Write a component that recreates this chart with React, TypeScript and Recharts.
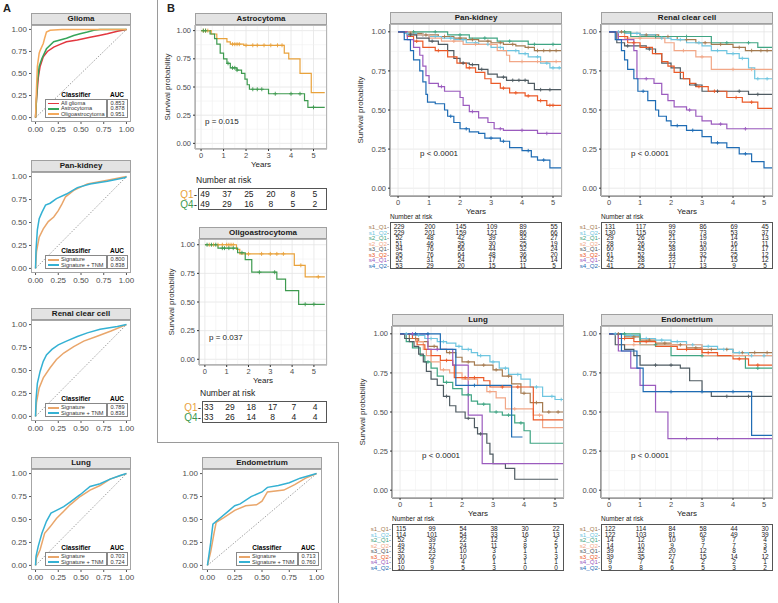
import React from "react";
import { ComposedChart, Line, XAxis, YAxis, CartesianGrid, ReferenceLine } from "recharts";

const FONT = '"Liberation Sans", Arial, Helvetica, sans-serif';

// ---------- ROC curves, [false positive rate, true positive rate] ----------
const gliomaAll = [[0,0],[0.01,0.2],[0.03,0.45],[0.05,0.58],[0.085,0.69],[0.13,0.75],[0.2,0.8],[0.27,0.83],[0.34,0.86],[0.46,0.88],[0.6,0.91],[0.7,0.93],[0.79,0.95],[0.9,0.98],[1,1]];
const gliomaAstro = [[0,0],[0.01,0.2],[0.02,0.4],[0.04,0.58],[0.07,0.67],[0.12,0.78],[0.2,0.86],[0.27,0.88],[0.34,0.9],[0.42,0.93],[0.49,0.95],[0.57,0.97],[0.64,0.99],[0.71,1],[1,1]];
const gliomaOligo = [[0,0],[0.01,0.32],[0.02,0.58],[0.04,0.73],[0.05,0.76],[0.085,0.84],[0.1,0.9],[0.12,0.97],[0.16,0.99],[0.29,1],[1,1]];
const pkSig = [[0,0],[0.01,0.18],[0.04,0.34],[0.085,0.43],[0.14,0.51],[0.2,0.56],[0.25,0.63],[0.29,0.7],[0.33,0.78],[0.42,0.85],[0.57,0.92],[0.79,0.96],[1,1]];
const pkTnm = [[0,0],[0.005,0.2],[0.02,0.42],[0.04,0.54],[0.07,0.61],[0.11,0.69],[0.16,0.71],[0.23,0.76],[0.34,0.81],[0.46,0.88],[0.6,0.92],[0.79,0.95],[0.99,0.99],[1,1]];
const rccSig = [[0,0],[0.01,0.15],[0.04,0.31],[0.085,0.42],[0.16,0.53],[0.23,0.62],[0.31,0.69],[0.42,0.76],[0.53,0.82],[0.67,0.87],[0.83,0.93],[1,1]];
const rccTnm = [[0,0],[0.005,0.18],[0.02,0.36],[0.05,0.49],[0.085,0.6],[0.12,0.67],[0.18,0.73],[0.25,0.78],[0.34,0.82],[0.46,0.87],[0.57,0.91],[0.71,0.95],[0.9,0.98],[1,1]];
const lungSig = [[0,0],[0.01,0.08],[0.05,0.17],[0.1,0.35],[0.16,0.42],[0.23,0.51],[0.31,0.59],[0.38,0.66],[0.49,0.75],[0.6,0.82],[0.71,0.87],[0.82,0.94],[1,1]];
const lungTnm = [[0,0],[0.005,0.1],[0.03,0.21],[0.07,0.35],[0.12,0.48],[0.17,0.57],[0.23,0.6],[0.31,0.64],[0.38,0.69],[0.49,0.77],[0.6,0.86],[0.71,0.89],[0.82,0.94],[0.93,0.98],[1,1]];
const endoSig = [[0,0],[0.03,0.15],[0.06,0.35],[0.08,0.47],[0.15,0.52],[0.25,0.6],[0.35,0.65],[0.45,0.66],[0.5,0.7],[0.55,0.8],[0.7,0.82],[0.8,0.88],[0.9,0.95],[1,1]];
const endoTnm = [[0,0],[0.03,0.25],[0.05,0.45],[0.1,0.5],[0.2,0.6],[0.25,0.65],[0.3,0.67],[0.4,0.75],[0.5,0.8],[0.55,0.85],[0.65,0.87],[0.75,0.9],[0.85,0.95],[1,1]];

const gliomaNames = ["All glioma", "Astrocytoma", "Oligoastrocytoma"];
const gliomaAuc = ["0.853", "0.878", "0.951"];
const sigNames = ["Signature", "Signature + TNM"];
const pkAuc = ["0.800", "0.838"];
const rccAuc = ["0.789", "0.836"];
const lungAuc = ["0.703", "0.724"];
const endoAuc = ["0.713", "0.760"];
const gliomaColors = ["#E2373F", "#36A55A", "#F4A95B"];
const sigColors = ["#E9A66B", "#34B1D3"];

// ---------- Panel B: Q1 vs Q4, [years, survival] ----------
const astroQ1 = [[0,1],[0.45,0.97],[0.7,0.93],[1.15,0.9],[1.3,0.88],[1.9,0.87],[3.7,0.8],[3.9,0.75],[4.4,0.62],[4.9,0.45],[5.5,0.45]];
const astroQ4 = [[0,1],[0.4,0.97],[0.6,0.93],[0.7,0.88],[0.85,0.8],[1,0.75],[1.15,0.71],[1.3,0.67],[1.6,0.65],[1.8,0.62],[1.95,0.57],[2.05,0.52],[2.15,0.48],[3,0.44],[4.6,0.38],[4.75,0.32],[5.5,0.32]];
const astroQ1Cens = [0.1,0.2,0.3,1.4,1.5,1.6,1.7,2,2.3,2.5,2.8,3.1,3.4,3.6];
const astroQ4Cens = [0.1,0.2,1.2,1.4,1.5,1.6,2.3,2.5,2.7,3.3,4,4.4,5];
const oligoQ1 = [[0,1],[1.45,0.96],[1.6,0.92],[4.1,0.82],[4.6,0.72],[5.5,0.72]];
const oligoQ4 = [[0,1],[0.6,0.97],[1.5,0.93],[1.85,0.87],[2.15,0.76],[3.3,0.7],[3.7,0.6],[4.3,0.48],[5.5,0.48]];
const oligoQ1Cens = [0.2,0.4,0.6,0.8,1,1.1,1.2,1.3,2,2.6,3,3.3,3.6,4.4,5.2];
const oligoQ4Cens = [0.1,0.3,0.5,0.8,0.9,1.1,1.3,1.7,2.5,3.2,4.6,5];
const qNames = ["Q1", "Q4"];
const qColors = ["#E9A23B", "#3E9A4F"];
const astroRisk = [[49,37,25,20,8,5],[49,29,16,8,5,2]];
const oligoRisk = [[33,29,18,17,7,4],[33,26,14,8,4,4]];

// ---------- Subgroups ----------
const groups = ["s1_Q1","s1_Q2","s2_Q1","s2_Q2","s3_Q1","s3_Q2","s4_Q1","s4_Q2"];
const groupColors = ["#A57B50","#6EC5E0","#3FA583","#F2A787","#4F5B62","#EB5A28","#9B5BBE","#1F6CB4"];

// Pan-kidney
const pkS1Q1 = [[0,1],[0.3,0.99],[0.8,0.98],[1.3,0.97],[1.8,0.96],[2.2,0.95],[2.6,0.94],[3,0.93],[3.4,0.92],[3.8,0.91],[4.1,0.9],[4.4,0.88],[5.3,0.88]];
const pkS1Q2 = [[0,1],[0.2,0.99],[0.6,0.98],[1,0.97],[1.4,0.96],[1.8,0.95],[2.2,0.93],[2.6,0.92],[3,0.9],[3.4,0.88],[3.9,0.86],[4.2,0.84],[4.6,0.8],[4.9,0.77],[5.3,0.77]];
const pkS2Q1 = [[0,1],[1.6,0.98],[2.3,0.96],[3.2,0.94],[4.2,0.92],[5.3,0.92]];
const pkS2Q2 = [[0,1],[0.5,0.98],[1,0.96],[1.4,0.94],[2.1,0.92],[3.2,0.88],[3.5,0.85],[3.6,0.81],[5.3,0.81]];
const pkS3Q1 = [[0,1],[0.3,0.98],[0.6,0.96],[1,0.94],[1.3,0.92],[1.6,0.88],[1.8,0.83],[2,0.8],[2.3,0.79],[2.6,0.76],[2.9,0.73],[3.2,0.71],[3.5,0.69],[4.2,0.67],[4.4,0.63],[5.3,0.62]];
const pkS3Q2 = [[0,1],[0.3,0.97],[0.5,0.94],[0.8,0.9],[1.2,0.88],[1.6,0.84],[1.9,0.8],[2.2,0.77],[2.5,0.74],[2.8,0.7],[3,0.67],[3.3,0.64],[3.6,0.61],[4.1,0.59],[4.5,0.56],[4.8,0.53],[5.3,0.52]];
const pkS4Q1 = [[0,1],[0.3,0.95],[0.5,0.9],[0.7,0.85],[0.8,0.78],[0.9,0.72],[1,0.67],[1.3,0.65],[1.5,0.62],[2,0.58],[2.1,0.53],[2.3,0.49],[2.6,0.45],[2.9,0.42],[3.1,0.38],[3.4,0.37],[4.5,0.35],[5.3,0.35]];
const pkS4Q2 = [[0,1],[0.2,0.95],[0.4,0.88],[0.5,0.82],[0.7,0.75],[0.8,0.68],[0.9,0.6],[0.95,0.55],[1.2,0.54],[1.5,0.5],[1.6,0.46],[1.8,0.42],[2,0.38],[2.3,0.36],[2.6,0.35],[2.8,0.32],[3.3,0.3],[3.6,0.26],[4,0.24],[4.3,0.2],[4.5,0.18],[4.9,0.13],[5.3,0.12]];
const pkCens = [
  [0.4,0.9,1.5,2,2.4,2.9,3.3,3.7,4.2,4.5,4.7,4.9,5.1],
  [0.3,0.8,1.2,1.7,2.1,2.5,2.9,3.3,3.8,4.1,4.5,4.8,5,5.2],
  [0.5,1.2,2,2.8,3.6,4.4,5],
  [0.8,1.8,2.5,3,4,4.5,5.1],
  [0.4,1.1,2.1,2.4,2.7,3.4,3.7,3.9,4.1,4.6,4.9],
  [0.6,1.3,2.3,3.4,3.8,4.2,4.6,4.9,5],
  [1.4,2.4,3.3,4,4.8],
  [1.7,2.2,3,3.4,4.2,4.7],
];
const pkRisk = [[229,200,145,109,89,55],[229,201,159,121,86,66],[52,48,42,39,32,27],[51,46,35,30,25,19],[94,76,56,44,32,24],[95,76,64,48,36,20],[52,31,24,17,15,14],[53,29,20,15,11,5]];

// Renal clear cell
const rccS1Q1 = [[0,1],[0.5,0.99],[1,0.98],[1.6,0.97],[2.2,0.95],[2.8,0.93],[3.3,0.92],[4,0.9],[4.4,0.88],[5.3,0.88]];
const rccS1Q2 = [[0,1],[0.5,0.99],[1,0.98],[1.5,0.96],[2,0.95],[2.5,0.93],[3,0.91],[3.3,0.88],[3.8,0.86],[4.2,0.83],[4.5,0.77],[4.7,0.7],[5.3,0.7]];
const rccS2Q1 = [[0,1],[0.7,0.97],[3.3,0.93],[4.8,0.9],[5.3,0.9]];
const rccS2Q2 = [[0,1],[0.5,0.96],[1.8,0.93],[2.1,0.88],[2.8,0.84],[3.3,0.76],[5.3,0.76]];
const rccS3Q1 = [[0,1],[0.25,0.93],[0.5,0.91],[1.2,0.89],[1.5,0.86],[1.7,0.8],[2,0.77],[2.3,0.7],[2.6,0.66],[3,0.62],[4.5,0.6],[5.3,0.6]];
const rccS3Q2 = [[0,1],[0.3,0.97],[0.6,0.93],[1,0.9],[1.4,0.86],[1.7,0.81],[1.9,0.78],[2.1,0.74],[2.4,0.7],[2.6,0.67],[2.8,0.65],[3.2,0.62],[3.8,0.58],[4.3,0.55],[4.8,0.51],[5.3,0.5]];
const rccS4Q1 = [[0,1],[0.3,0.95],[0.8,0.88],[0.9,0.7],[1.45,0.67],[1.7,0.6],[1.9,0.56],[2.1,0.52],[2.5,0.5],[2.8,0.46],[3,0.43],[3.3,0.41],[3.8,0.38],[5.3,0.37]];
const rccS4Q2 = [[0,1],[0.2,0.95],[0.4,0.88],[0.5,0.82],[0.6,0.76],[0.8,0.7],[0.93,0.62],[1.25,0.56],[1.5,0.5],[1.6,0.46],[1.85,0.43],[2,0.4],[2.5,0.37],[3,0.33],[3.3,0.29],[3.8,0.26],[4.2,0.22],[4.6,0.17],[5,0.13],[5.3,0.13]];
const rccCens = [
  [0.4,1.2,1.9,2.5,3.1,3.6,4.2,4.6,4.9,5.1],
  [0.3,0.9,1.7,2.3,2.9,3.5,4,4.3,4.8,5.1],
  [0.5,1.5,2.5,3.8,4.5],
  [1,2.4,3,4,4.6],
  [0.6,1.3,2.8,3.5,4.2,4.8],
  [0.8,2.9,3.4,4.1,4.6],
  [1.2,2.6,3.6,4.4],
  [1.1,2.2,2.7,3.5,4.4],
];
const rccRisk = [[131,117,99,86,69,45],[130,115,92,73,53,37],[29,26,21,19,14,13],[28,26,22,19,16,11],[60,45,38,30,21,17],[61,52,44,32,25,12],[42,28,22,17,15,12],[41,25,17,13,9,5]];

// Lung
const lungS1Q1 = [[0,1],[0.3,0.97],[0.6,0.95],[0.9,0.92],[1.2,0.9],[1.5,0.88],[1.8,0.85],[2,0.82],[2.4,0.8],[3,0.77],[3.3,0.73],[3.6,0.68],[3.9,0.62],[4.2,0.56],[4.6,0.5],[5.3,0.48]];
const lungS1Q2 = [[0,1],[0.4,0.99],[0.8,0.97],[1.2,0.95],[1.5,0.94],[1.8,0.92],[2,0.9],[2.3,0.88],[2.5,0.86],[2.9,0.82],[3.2,0.78],[3.5,0.74],[3.9,0.71],[4.2,0.66],[4.6,0.6],[5,0.58],[5.3,0.58]];
const lungS2Q1 = [[0,1],[0.2,0.95],[0.4,0.91],[0.65,0.86],[0.8,0.82],[1,0.78],[1.2,0.73],[1.4,0.69],[1.7,0.65],[2,0.61],[2.3,0.57],[2.5,0.55],[2.9,0.5],[3.3,0.48],[3.7,0.43],[4,0.38],[4.2,0.3],[5.3,0.28]];
const lungS2Q2 = [[0,1],[0.5,0.95],[0.75,0.9],[0.85,0.86],[1,0.82],[1.3,0.77],[1.6,0.75],[2,0.71],[2.5,0.67],[2.8,0.63],[3.1,0.59],[3.4,0.52],[4.3,0.48],[4.6,0.4],[5.3,0.38]];
const lungS3Q1 = [[0,1],[0.15,0.97],[0.3,0.95],[0.45,0.92],[0.6,0.87],[0.75,0.82],[0.85,0.76],[1,0.71],[1.2,0.67],[1.4,0.6],[1.6,0.54],[1.8,0.5],[2.1,0.46],[2.4,0.4],[2.5,0.36],[2.8,0.3],[2.9,0.23],[3,0.17],[3.4,0.14],[3.7,0.07],[5.1,0.07]];
const lungS3Q2 = [[0,1],[0.4,0.97],[0.55,0.93],[0.8,0.9],[1,0.86],[1.3,0.83],[1.7,0.8],[1.75,0.72],[2.7,0.7],[2.9,0.66],[4.2,0.66],[4.3,0.45],[5.3,0.45]];
const lungS4Q1 = [[0,1],[0.9,0.9],[1.7,0.8],[2.2,0.48],[2.65,0.17],[5.3,0.17]];
const lungS4Q2 = [[0,1],[1.3,0.9],[1.8,0.67],[3.6,0.34],[3.95,0.34]];
const lungCens = [
  [0.5,1.1,1.6,2.2,2.7,3.1,3.5,4,4.4,4.8,5.1],
  [0.2,0.6,1,1.4,1.9,2.2,2.6,3,3.4,3.8,4.4,4.9,5.2],
  [0.9,1.5,2.2,2.7,3.1,3.5,3.9],
  [1.4,2.2,2.9,3.7,4.5],
  [1.5,2.2,2.6],
  [1.5,2.1,2.4,3.3,3.8],
  [0.4,1.2],
  [0.5,0.9,2.4],
];
const lungRisk = [[115,99,54,38,30,22],[114,101,54,33,16,13],[52,39,22,12,3,2],[49,37,24,11,8,5],[32,23,10,3,1,1],[30,22,10,6,3,3],[10,9,4,1,1,1],[10,9,5,3,0,0]];

// Endometrium
const endoS1Q1 = [[0,1],[0.5,0.98],[1,0.96],[1.5,0.94],[2,0.93],[2.5,0.91],[3,0.9],[4,0.88],[5.3,0.87]];
const endoS1Q2 = [[0,1],[0.5,0.99],[1,0.97],[1.5,0.96],[2,0.95],[2.5,0.93],[3,0.92],[3.5,0.9],[4,0.88],[4.5,0.86],[5.3,0.85]];
const endoS2Q1 = [[0,1],[1,0.93],[2,0.86],[4.4,0.78],[5.3,0.78]];
const endoS2Q2 = [[0,1],[0.3,0.93],[3,0.86],[5.3,0.86]];
const endoS3Q1 = [[0,1],[0.2,0.93],[0.5,0.9],[0.8,0.86],[1,0.8],[2.3,0.78],[2.6,0.7],[3,0.63],[3.3,0.6],[5.3,0.6]];
const endoS3Q2 = [[0,1],[0.3,0.97],[0.8,0.95],[1.5,0.92],[2.2,0.9],[3,0.88],[3.5,0.86],[4,0.84],[4.5,0.8],[5.3,0.8]];
const endoS4Q1 = [[0,1],[0.3,0.89],[0.7,0.78],[1,0.67],[1.5,0.5],[1.9,0.33],[5.3,0.33]];
const endoS4Q2 = [[0,1],[0.4,0.89],[0.9,0.78],[1.1,0.63],[4.4,0.63],[4.6,0.35],[5.3,0.35]];
const endoCens = [
  [0.3,0.8,1.3,1.8,2.3,2.8,3.3,3.8,4.3,4.7,5.1],
  [0.2,0.7,1.2,1.7,2.2,2.7,3.2,3.7,4.2,4.6,5],
  [0.5,1.5,3,4.8],
  [0.8,2,4],
  [1.5,2,3.8,4.5],
  [0.5,1.2,2.5,3.2,4.2,4.8],
  [2.5,3.5],
  [2,3,4],
];
const endoRisk = [[122,114,84,58,44,30],[122,103,81,62,49,39],[14,12,10,9,7,4],[14,10,9,7,7,3],[39,32,20,12,8,5],[39,35,27,15,14,12],[9,7,4,2,2,1],[9,8,6,5,3,2]];

const rocTicks = [0, 0.25, 0.5, 0.75, 1];
const years = [0, 1, 2, 3, 4, 5];
const minorYears = [0.5, 1.5, 2.5, 3.5, 4.5];
const minorSurv = [0.125, 0.375, 0.625, 0.875];

const toXY = (pts: number[][]) => pts.map(([x, y]) => ({ x, y }));
const stepAt = (pts: number[][], t: number) => {
  let v = pts[0][1];
  for (const [x, y] of pts) {
    if (x <= t) v = y;
    else break;
  }
  return v;
};
const plusDot = (color: string, s: number) => (p: any) => {
  if (p.cx == null || p.cy == null || isNaN(p.cx) || isNaN(p.cy)) return <g key={`n${p.index}`} />;
  return <path key={`c${p.index}`} d={`M${p.cx - s},${p.cy}h${2 * s}M${p.cx},${p.cy - s}v${2 * s}`} stroke={color} strokeWidth={0.9} fill="none" />;
};

const abs = (l: number, t: number, extra: React.CSSProperties = {}): React.CSSProperties => ({ position: "absolute", left: l, top: t, ...extra });

function Strip({ x, y, w, title }: any) {
  return (
    <div style={abs(x, y, { width: w, height: 12, background: "#e3e3e3", border: "1px solid #a0a0a0", boxSizing: "border-box", fontWeight: "bold", fontSize: 8, lineHeight: "10px", textAlign: "center", color: "#1a1a1a", whiteSpace: "nowrap" })}>{title}</div>
  );
}

function Frame({ x, y, w, h, color = "#a6a6a6" }: any) {
  return <div style={abs(x, y, { width: w, height: h, border: `1px solid ${color}`, boxSizing: "border-box", pointerEvents: "none" })} />;
}

function RocPanel({ x, y, w, h, title, curves, names, colors, aucs }: any) {
  const yw = 30, xh = 14;
  const rowH = 5.4;
  const boxH = names.length * rowH + 3;
  const boxTop = y + h - 4 - boxH;
  return (
    <>
      <Strip x={x} y={y - 12} w={w} title={title} />
      <div style={abs(x - yw, y)}>
        <ComposedChart width={yw + w + 10} height={h + xh} margin={{ top: 0, right: 10, bottom: 0, left: 0 }}>
          <XAxis dataKey="x" type="number" domain={[-0.05, 1.05]} allowDataOverflow ticks={rocTicks} interval={0} tickFormatter={(v: number) => v.toFixed(2)} height={xh} tickSize={2} tickLine={{ stroke: "#555" }} axisLine={false} tick={{ fontSize: 8, fill: "#4d4d4d", fontFamily: FONT }} />
          <YAxis type="number" domain={[-0.05, 1.05]} allowDataOverflow ticks={rocTicks} interval={0} tickFormatter={(v: number) => v.toFixed(2)} width={yw} tickSize={2} tickLine={{ stroke: "#555" }} axisLine={false} tick={{ fontSize: 8, fill: "#4d4d4d", fontFamily: FONT }} />
          <ReferenceLine segment={[{ x: 0, y: 0 }, { x: 1, y: 1 }]} stroke="#8a8a8a" strokeWidth={0.8} strokeDasharray="1.5 1.5" />
          {curves.map((c: number[][], i: number) => (
            <Line key={i} data={toXY(c)} dataKey="y" type="linear" stroke={colors[i]} strokeWidth={1.5} dot={false} activeDot={false} isAnimationActive={false} />
          ))}
        </ComposedChart>
      </div>
      <Frame x={x} y={y} w={w} h={h} />
      <div style={abs(x + w - 85, boxTop - 8, { width: 60, textAlign: "center", fontWeight: "bold", fontSize: 6.5, lineHeight: "8px" })}>Classifier</div>
      <div style={abs(x + w - 24, boxTop - 8, { width: 20, textAlign: "center", fontWeight: "bold", fontSize: 6.5, lineHeight: "8px" })}>AUC</div>
      <div style={abs(x + w - 86, boxTop, { width: 62, height: boxH, border: "0.8px solid #888", boxSizing: "border-box", background: "#fff" })}>
        {names.map((n: string, i: number) => (
          <div key={n} style={abs(2, 1 + i * rowH, { fontSize: 5.6, lineHeight: `${rowH}px`, whiteSpace: "nowrap", color: "#333" })}>
            <span style={{ display: "inline-block", width: 11, height: 1.6, background: colors[i], verticalAlign: "middle", marginRight: 2 }} />
            {n}
          </div>
        ))}
      </div>
      <div style={abs(x + w - 24, boxTop, { width: 21, height: boxH, border: "0.8px solid #888", boxSizing: "border-box", background: "#fff" })}>
        {aucs.map((a: string, i: number) => (
          <div key={a + i} style={abs(0, 1 + i * rowH, { width: 19, textAlign: "center", fontSize: 5.6, lineHeight: `${rowH}px`, color: "#333" })}>{a}</div>
        ))}
      </div>
    </>
  );
}

function KmPanel({ x, y, w, h, xDom, title, curves, cens, colors, lw, tickFs, dotS, axisColor }: any) {
  const yw = 34, xh = 14;
  return (
    <>
      <Strip x={x} y={y - 12} w={w} title={title} />
      <div style={abs(x - yw, y)}>
        <ComposedChart width={yw + w + 6} height={h + xh} margin={{ top: 0, right: 6, bottom: 0, left: 0 }}>
          <CartesianGrid stroke="#e4e4e4" strokeWidth={0.8} />
          {minorYears.map((v) => <ReferenceLine key={"mx" + v} x={v} stroke="#f0f0f0" strokeWidth={0.6} />)}
          {minorSurv.map((v) => <ReferenceLine key={"my" + v} y={v} stroke="#f0f0f0" strokeWidth={0.6} />)}
          <XAxis dataKey="x" type="number" domain={xDom} allowDataOverflow ticks={years} interval={0} height={xh} tickSize={2} tickLine={{ stroke: "#333" }} axisLine={{ stroke: axisColor }} tick={{ fontSize: tickFs, fill: "#4d4d4d", fontFamily: FONT }} />
          <YAxis type="number" domain={[-0.05, 1.05]} allowDataOverflow ticks={rocTicks} interval={0} tickFormatter={(v: number) => v.toFixed(2)} width={yw} tickSize={2} tickLine={{ stroke: "#333" }} axisLine={{ stroke: axisColor }} tick={{ fontSize: tickFs, fill: "#4d4d4d", fontFamily: FONT }} />
          {curves.map((c: number[][], i: number) => (
            <Line key={"l" + i} data={toXY(c)} dataKey="y" type="stepAfter" stroke={colors[i]} strokeWidth={lw} dot={false} activeDot={false} isAnimationActive={false} />
          ))}
          {cens.map((ts: number[], i: number) => (
            <Line key={"c" + i} data={ts.map((t) => ({ x: t, y: stepAt(curves[i], t) }))} dataKey="y" stroke="none" dot={plusDot(colors[i], dotS)} activeDot={false} isAnimationActive={false} />
          ))}
        </ComposedChart>
      </div>
      <Frame x={x} y={y} w={w} h={h} color="#b5b5b5" />
    </>
  );
}

function RiskTable({ x, y, w, xDom, rows, labels, colors, rowH, fs, labelFs }: any) {
  const sx = (t: number) => ((t - xDom[0]) / (xDom[1] - xDom[0])) * w;
  return (
    <div style={abs(x, y, { width: w, height: rows.length * rowH + 3, border: "1px solid #555", boxSizing: "border-box" })}>
      {rows.map((r: number[], i: number) => (
        <React.Fragment key={i}>
          <div style={abs(-48, 1 + i * rowH, { width: 46, textAlign: "right", fontSize: labelFs, lineHeight: `${rowH}px`, color: colors[i], whiteSpace: "nowrap" })}>
            {labels[i]}<span style={{ color: "#333" }}>-</span>
          </div>
          {r.map((v: number, j: number) => (
            <div key={j} style={abs(sx(j) - 11, 1 + i * rowH, { width: 22, textAlign: "center", fontSize: fs, lineHeight: `${rowH}px`, color: "#222" })}>{v}</div>
          ))}
        </React.Fragment>
      ))}
    </div>
  );
}

function YLab({ cx, cy, fs = 8 }: any) {
  return <div style={abs(cx, cy, { transform: "translate(-50%, -50%) rotate(-90deg)", whiteSpace: "nowrap", fontSize: fs, color: "#333" })}>Survival probability</div>;
}

function Txt({ x, y, s, fs = 8, bold = false }: any) {
  return <div style={abs(x, y, { fontSize: fs, color: "#222", whiteSpace: "nowrap", fontWeight: bold ? "bold" : "normal", lineHeight: `${fs + 2}px` })}>{s}</div>;
}

const bigDom = [-0.26, 5.29];
const bDom = [-0.27, 5.6];

function BigKm({ x, y, title, curves, cens, risk, yLabel }: any) {
  const w = 172, h = 172;
  return (
    <>
      <KmPanel x={x} y={y} w={w} h={h} xDom={bigDom} title={title} curves={curves} cens={cens} colors={groupColors} lw={1.2} tickFs={7.5} dotS={1.8} axisColor="#444" />
      {yLabel && <YLab cx={x - 30} cy={y + h / 2} />}
      <Txt x={x + 30} y={y + 125} s="p < 0.0001" />
      <div style={abs(x, y + h + 11, { width: w, textAlign: "center", fontSize: 8, color: "#222" })}>Years</div>
      <Txt x={x} y={y + h + 17} s="Number at risk" fs={6.5} />
      <RiskTable x={x} y={y + h + 26} w={w} xDom={bigDom} rows={risk} labels={groups} colors={groupColors} rowH={5.5} fs={6.5} labelFs={6.2} />
    </>
  );
}

function SmallKm({ x, y, w, h, title, curves, cens, risk, p, tabGap }: any) {
  return (
    <>
      <KmPanel x={x} y={y} w={w} h={h} xDom={bDom} title={title} curves={curves} cens={cens} colors={qColors} lw={1.2} tickFs={7.5} dotS={2} axisColor="#999" />
      <YLab cx={x - 28} cy={y + h / 2} />
      <Txt x={x + 10} y={y + h - 32} s={p} />
      <div style={abs(x, y + h + 11, { width: w, textAlign: "center", fontSize: 8, color: "#222" })}>Years</div>
      <Txt x={x + 1} y={y + h + tabGap - 13} s="Number at risk" fs={8.5} />
      <RiskTable x={x + 3} y={y + h + tabGap} w={w - 3} xDom={bDom} rows={risk} labels={qNames} colors={qColors} rowH={9.5} fs={8.5} labelFs={10} />
    </>
  );
}

export default function App() {
  return (
    <div style={{ position: "relative", width: 778, height: 603, background: "#fff", fontFamily: FONT, overflow: "hidden" }}>
      <style>{"body{margin:0}"}</style>
      <Txt x={3} y={2} s="A" fs={11} bold />
      <Txt x={167} y={2} s="B" fs={11} bold />

      {/* separators between A and B */}
      <div style={abs(157, 0, { width: 1, height: 442, background: "#9a9a9a" })} />
      <div style={abs(157, 442, { width: 182, height: 1, background: "#9a9a9a" })} />
      <div style={abs(338, 442, { width: 1, height: 161, background: "#9a9a9a" })} />

      <RocPanel x={31} y={25} w={100} h={97} title="Glioma" curves={[gliomaAll, gliomaAstro, gliomaOligo]} names={gliomaNames} colors={gliomaColors} aucs={gliomaAuc} />
      <RocPanel x={31} y={172} w={100} h={101} title="Pan-kidney" curves={[pkSig, pkTnm]} names={sigNames} colors={sigColors} aucs={pkAuc} />
      <RocPanel x={31} y={320} w={100} h={101} title="Renal clear cell" curves={[rccSig, rccTnm]} names={sigNames} colors={sigColors} aucs={rccAuc} />
      <RocPanel x={31} y={469} w={100} h={101} title="Lung" curves={[lungSig, lungTnm]} names={sigNames} colors={sigColors} aucs={lungAuc} />
      <RocPanel x={202} y={469} w={120} h={101} title="Endometrium" curves={[endoSig, endoTnm]} names={sigNames} colors={sigColors} aucs={endoAuc} />

      <SmallKm x={195} y={25} w={132} h={124} title="Astrocytoma" curves={[astroQ1, astroQ4]} cens={[astroQ1Cens, astroQ4Cens]} risk={astroRisk} p="p = 0.015" tabGap={39} />
      <SmallKm x={199} y={239} w={128} h={126} title="Oligoastrocytoma" curves={[oligoQ1, oligoQ4]} cens={[oligoQ1Cens, oligoQ4Cens]} risk={oligoRisk} p="p = 0.037" tabGap={36} />

      <BigKm x={390} y={24} title="Pan-kidney" curves={[pkS1Q1, pkS1Q2, pkS2Q1, pkS2Q2, pkS3Q1, pkS3Q2, pkS4Q1, pkS4Q2]} cens={pkCens} risk={pkRisk} yLabel />
      <BigKm x={601} y={24} title="Renal clear cell" curves={[rccS1Q1, rccS1Q2, rccS2Q1, rccS2Q2, rccS3Q1, rccS3Q2, rccS4Q1, rccS4Q2]} cens={rccCens} risk={rccRisk} />
      <BigKm x={392} y={326} title="Lung" curves={[lungS1Q1, lungS1Q2, lungS2Q1, lungS2Q2, lungS3Q1, lungS3Q2, lungS4Q1, lungS4Q2]} cens={lungCens} risk={lungRisk} yLabel />
      <BigKm x={601} y={326} title="Endometrium" curves={[endoS1Q1, endoS1Q2, endoS2Q1, endoS2Q2, endoS3Q1, endoS3Q2, endoS4Q1, endoS4Q2]} cens={endoCens} risk={endoRisk} />
    </div>
  );
}
